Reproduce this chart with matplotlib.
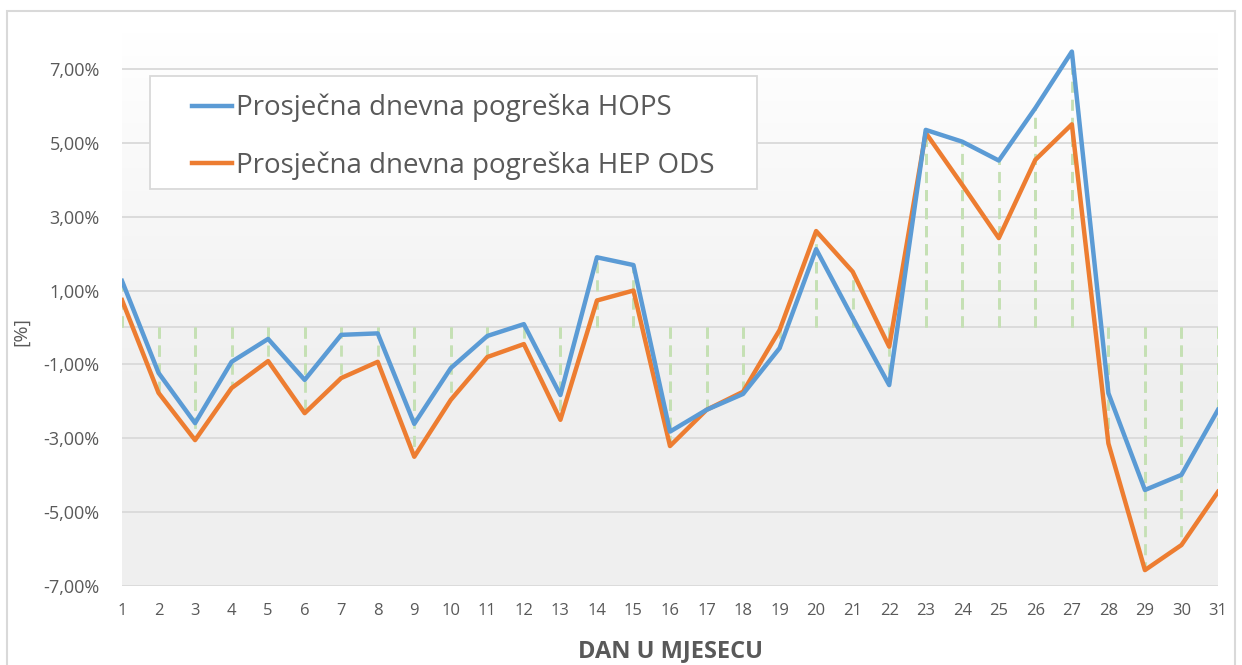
import numpy as np
import matplotlib.pyplot as plt
from matplotlib.patches import Rectangle
from matplotlib.ticker import FuncFormatter

days = np.arange(1, 32)

hops = [1.26, -1.23, -2.59, -0.93, -0.31, -1.42, -0.20, -0.16, -2.61, -1.10,
        -0.23, 0.09, -1.83, 1.90, 1.69, -2.82, -2.23, -1.80, -0.56, 2.12,
        0.26, -1.56, 5.35, 5.03, 4.52, 5.94, 7.47, -1.78, -4.40, -3.99, -2.23]
hep_ods = [0.74, -1.77, -3.05, -1.64, -0.91, -2.32, -1.37, -0.93, -3.50, -1.96,
           -0.80, -0.45, -2.50, 0.73, 1.00, -3.21, -2.23, -1.74, -0.07, 2.61,
           1.51, -0.52, 5.27, 3.86, 2.42, 4.54, 5.50, -3.14, -6.57, -5.89, -4.45]

labels = ['Prosječna dnevna pogreška HOPS', 'Prosječna dnevna pogreška HEP ODS']
yticks = [-7, -5, -3, -1, 1, 3, 5, 7]

plt.rcParams['font.family'] = ['Open Sans', 'DejaVu Sans']
txt = '#595959'
grid = '#d9d9d9'

fig = plt.figure(figsize=(12.42, 6.65), dpi=100)
ax = fig.add_axes([122/1242, 1 - 586/665, 1096/1242, 554/665])

# chart border
fig.patches.append(Rectangle((7/1242, -0.1), 1228/1242, 1.1 - 11/665,
                             transform=fig.transFigure, fill=False,
                             edgecolor=grid, lw=1.5))

# background gradient (white top -> light grey bottom)
grad = np.linspace(0, 1, 256).reshape(-1, 1)
c_top = np.array([1.0, 1.0, 1.0])
c_bot = np.array([0.94, 0.94, 0.94])
img = c_top + (c_bot - c_top) * np.clip(grad * 1.6, 0, 1)[:, :, None]
ax.imshow(img, extent=(1, 31, -7, 8), aspect='auto', origin='upper', zorder=0)

ax.set_xlim(1, 31)
ax.set_ylim(-7, 8)

for y in yticks:
    ax.axhline(y, color=grid, lw=1.3, zorder=1)
ax.axhline(0, color=grid, lw=1.3, zorder=1)

# drop lines
ax.vlines(days, 0, hops, colors='#c5e0b4', linestyles=(0, (4, 2.5)), lw=2, zorder=2)
ax.vlines(days, 0, hep_ods, colors='#c5e0b4', linestyles=(0, (4, 2.5)), lw=2, zorder=2)

ax.plot(days, hops, color='#5b9bd5', lw=3.2, label=labels[0], zorder=4)
ax.plot(days, hep_ods, color='#ed7d31', lw=3.2, label=labels[1], zorder=3)

for s in ax.spines.values():
    s.set_visible(False)

ax.set_xticks(days)
ax.set_yticks(yticks)
ax.yaxis.set_major_formatter(FuncFormatter(lambda v, p: f'{v:.2f}%'.replace('.', ',')))
ax.tick_params(axis='both', length=0, labelcolor=txt)
ax.tick_params(axis='y', pad=16, labelsize=13)
ax.tick_params(axis='x', pad=12, labelsize=12)

ax.set_ylabel('[%]', fontsize=14, color=txt)
ax.yaxis.set_label_coords(-0.084, 0.46)
ax.set_xlabel('DAN U MJESECU', fontsize=17, fontweight='bold', color=txt)
ax.xaxis.set_label_coords(0.5, -0.096)

# legend frame drawn separately for exact placement
ax.add_patch(Rectangle((28/1096, 397/554), 607/1096, 113/554, transform=ax.transAxes,
                       facecolor='white', edgecolor=grid, lw=1.3, zorder=5))
leg = ax.legend(loc='upper left', bbox_to_anchor=(70/1096, 492/554),
                fontsize=20, frameon=False, handlelength=1.44, handletextpad=0.15,
                borderpad=0, labelspacing=1.04, borderaxespad=0)
leg.set_zorder(6)
for t in leg.get_texts():
    t.set_color(txt)

fig.savefig('out.png', dpi=100)
